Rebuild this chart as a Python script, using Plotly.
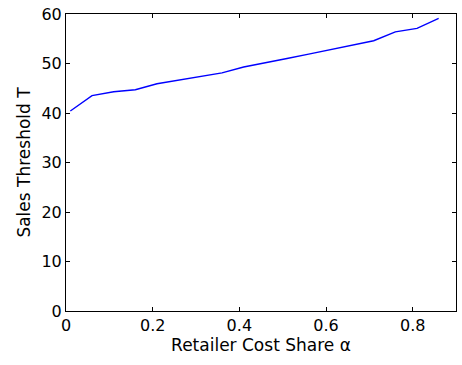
import plotly.graph_objects as go

alpha = [0.01, 0.06, 0.11, 0.16, 0.21, 0.26, 0.31, 0.36, 0.41, 0.46, 0.51, 0.56, 0.61, 0.66, 0.71, 0.76, 0.81, 0.86]
threshold = [40.4, 43.5, 44.3, 44.7, 45.9, 46.6, 47.3, 48.1, 49.3, 50.1, 51.0, 51.9, 52.8, 53.7, 54.6, 56.4, 57.1, 59.1]

x_ticks = [0, 0.2, 0.4, 0.6, 0.8]
x_tick_labels = ["0", "0.2", "0.4", "0.6", "0.8"]
y_ticks = [0, 10, 20, 30, 40, 50, 60]

font = "DejaVu Sans, Liberation Sans, Arial, sans-serif"

fig = go.Figure()
fig.add_trace(go.Scatter(x=alpha, y=threshold, mode="lines",
                         line=dict(color="#0000ff", width=1.4), showlegend=False))

axis_common = dict(showgrid=False, zeroline=False, showline=True, linecolor="black",
                   linewidth=1, mirror="ticks", ticks="inside", ticklen=4,
                   tickcolor="black", ticklabeloverflow="allow",
                   tickfont=dict(family=font, size=16, color="black"))

fig.update_xaxes(range=[0, 0.9], tickvals=x_ticks, ticktext=x_tick_labels,
                 title=dict(text="Retailer Cost Share α", font=dict(family=font, size=17, color="black"), standoff=2),
                 **axis_common)
fig.update_yaxes(range=[0, 60], tickvals=y_ticks,
                 title=dict(text="Sales Threshold T", font=dict(family=font, size=17, color="black"), standoff=6),
                 **axis_common)

fig.update_layout(width=462, height=365, margin=dict(l=66, r=5, t=8, b=54),
                  plot_bgcolor="white", paper_bgcolor="white",
                  font=dict(family=font, size=16, color="black"))

fig.write_html("out.html")
